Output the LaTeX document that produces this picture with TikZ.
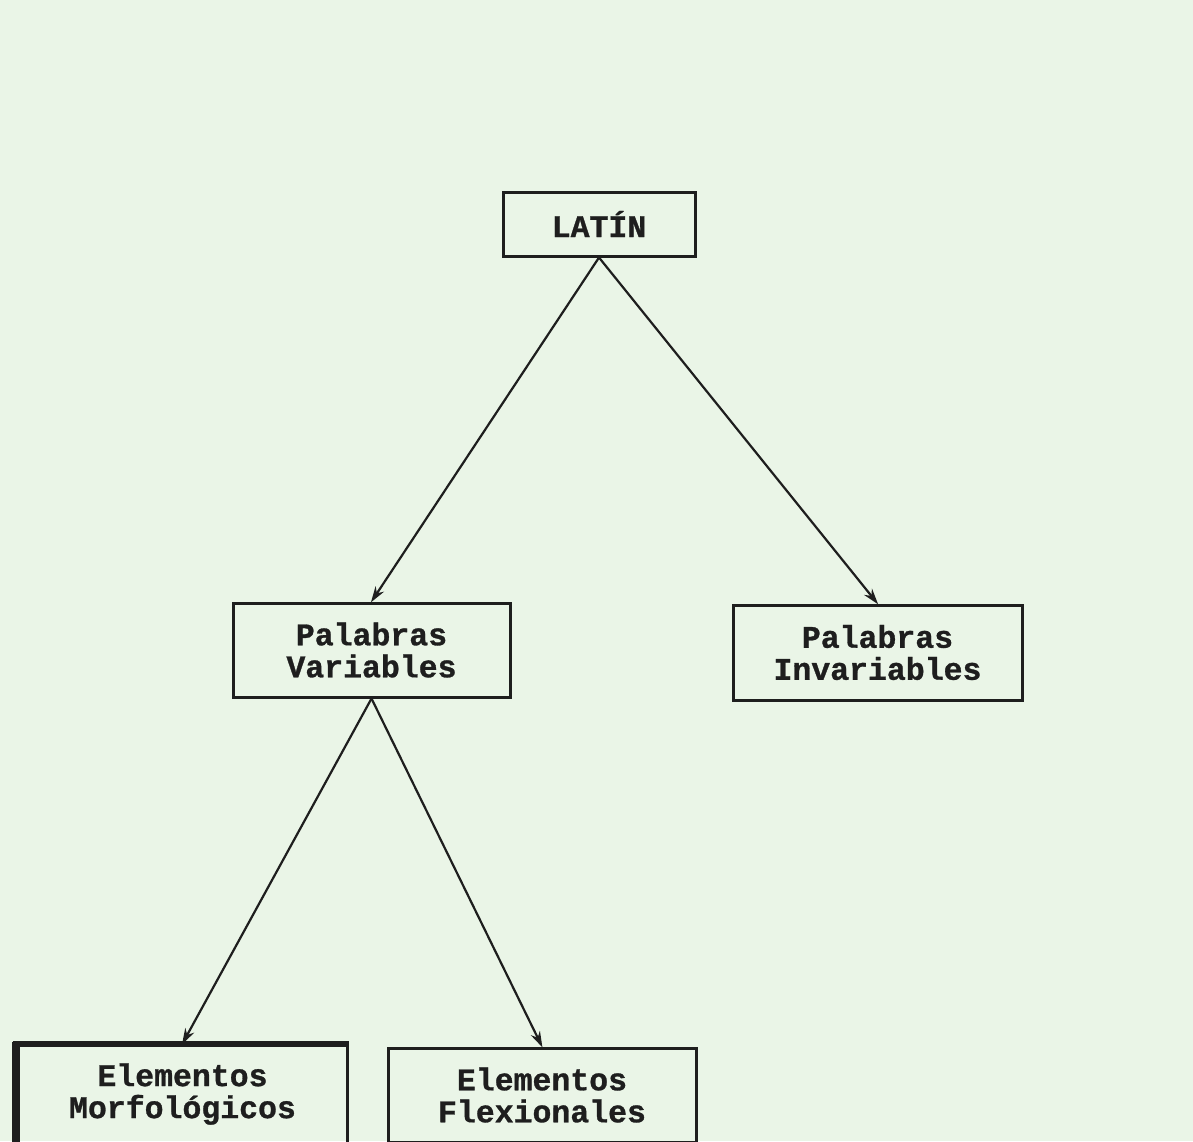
\documentclass[tikz,border=0pt]{standalone}
\usepackage{fontspec}
\setmonofont{Liberation Mono}[BoldFeatures={FakeBold=0.9}]
\usetikzlibrary{arrows.meta}
\definecolor{paper}{HTML}{EAF5E7}
\definecolor{ink}{HTML}{1E1E1E}
\tikzset{
  box/.style={draw=ink, line width=3pt, rectangle, align=center, inner sep=0pt,
    text=ink, font=\ttfamily\bfseries\fontsize{31.5}{32}\selectfont},
  arr/.style={draw=ink, line width=2.2pt, -{Stealth[length=16pt,width=10pt]}, shorten >=-1pt}
}
\begin{document}
\begin{tikzpicture}[x=1pt,y=-1pt]
\useasboundingbox (0,0) rectangle (1193,1141);
\fill[paper] (0,0) rectangle (1193,1141);

\node[box, minimum width=192pt, minimum height=64pt] (latin) at (599,224) {LATÍN};
\node[box, minimum width=277pt, minimum height=94pt] (var) at (371.5,650) {Palabras\\Variables};
\node[box, minimum width=289pt, minimum height=95pt] (invar) at (877.5,652.5) {Palabras\\Invariables};
\node[box, minimum width=329pt, minimum height=98pt] (morf) at (182.5,1094) {Elementos\\Morfológicos};
\node[box, minimum width=308pt, minimum height=94pt] (flex) at (542,1095) {Elementos\\Flexionales};

% heavy inked left and top edges of the Morfológicos box
\draw[ink, line width=7pt] ([xshift=-1pt,yshift=2pt]morf.north west) -- ([xshift=-1pt]morf.south west);
\draw[ink, line width=4.5pt] ([xshift=-4pt]morf.north west) -- (morf.north east);

\draw[arr] (latin.south) -- (var.north);
\draw[arr] (latin.south) -- (invar.north);
\draw[arr] (var.south) -- (morf.north);
\draw[arr] (var.south) -- (flex.north);
\end{tikzpicture}
\end{document}
